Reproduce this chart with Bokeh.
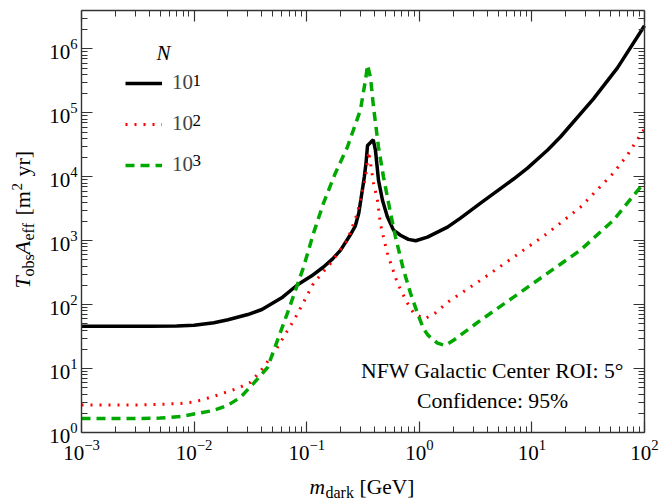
import math
from bokeh.plotting import figure
from bokeh.models import (Range1d, LogAxis, LogScale, FixedTicker, Label, Legend,
                          LegendItem, CustomJSTickFormatter)
from bokeh.embed import file_html
from bokeh.resources import INLINE

# ---------------- data ----------------
black_x = [0.001, 0.002, 0.004, 0.007, 0.01, 0.015, 0.02, 0.03, 0.04, 0.06, 0.083, 0.11,
           0.14, 0.17, 0.2, 0.245, 0.27, 0.29, 0.31, 0.325, 0.337, 0.347, 0.39, 0.408,
           0.434, 0.471, 0.522, 0.59, 0.68, 0.8, 0.93, 1.18, 1.78, 2.32, 3.5, 6.87, 9.14,
           13.8, 17.9, 35.2, 57.5, 100]
black_y = [46, 46, 46, 46.5, 47.5, 52, 58, 70, 84, 128, 205, 280,
           385, 520, 713, 1250, 1700, 2700, 5800, 10000, 17000, 31000, 38000, 26000,
           8900, 4300, 2340, 1466, 1220, 1050, 1000, 1140, 1630, 2260, 3880, 9240, 13700,
           26300, 42000, 165600, 507000, 2310000]

red_x = [0.001, 0.003, 0.005, 0.0076, 0.01, 0.0149, 0.0243, 0.0317, 0.0413, 0.055, 0.0794,
         0.115, 0.163, 0.23, 0.282, 0.333, 0.355, 0.392, 0.425, 0.452, 0.52, 0.64, 0.785,
         0.9, 1.12, 1.4, 1.78, 3.5, 6.87, 13.8, 27, 53, 70.6, 92, 100]
red_y = [2.7, 2.7, 2.75, 2.85, 3.0, 3.67, 4.9, 6.1, 10.4, 21.5, 63,
         216, 445, 1022, 2700, 9900, 25000, 8000, 4300, 1800, 640, 216, 105,
         72, 60, 75, 109, 241, 553, 1315, 3360, 11480, 21970, 45200, 56100]

green_x = [0.001, 0.003, 0.005, 0.0076, 0.0107, 0.0149, 0.0198, 0.0258, 0.0337, 0.0449,
           0.055, 0.0689, 0.0937, 0.115, 0.141, 0.18, 0.23, 0.30, 0.333, 0.347, 0.369,
           0.392, 0.434, 0.481, 0.555, 0.615, 0.725, 0.836, 0.964, 1.09, 1.2, 1.45, 1.7,
           2.01, 3.5, 6.87, 13.8, 27, 53, 92, 100]
green_y = [1.65, 1.65, 1.68, 1.78, 1.99, 2.21, 2.65, 3.54, 5.86, 10.4,
           27.7, 82, 385, 1315, 3880, 11500, 29300, 111000, 329000, 560000, 354000,
           124000, 29300, 9900, 2710, 1140, 346, 151, 73, 42, 33, 25, 23,
           27.7, 57, 131, 311, 713, 2100, 6900, 8300]

series_base = ["10", "10", "10"]
series_exp = ["1", "2", "3"]
legend_title = "N"
note_lines = ["NFW Galactic Center ROI: 5\u00b0", "Confidence: 95%"]

x_ticks = [1e-3, 1e-2, 1e-1, 1e0, 1e1, 1e2]
y_ticks = [1e0, 1e1, 1e2, 1e3, 1e4, 1e5, 1e6]
X0, X1 = 1e-3, 1e2
Y0, Y1 = 1.0, 4e6

x_minor = [m * 10.0 ** e for e in range(-3, 2) for m in range(2, 10)]
y_minor = [m * 10.0 ** e for e in range(0, 7) for m in range(2, 10) if m * 10.0 ** e < Y1]

FONT = "Liberation Serif"

# ---------------- layout (picture pixels) ----------------
W, H = 660, 498
FL, FR, FT, FB = 81, 644, 10, 432          # data box inside the canvas
lx0, lx1 = math.log10(X0), math.log10(X1)
ly0, ly1 = math.log10(Y0), math.log10(Y1)
ppx = (FR - FL) / (lx1 - lx0)
ppy = (FB - FT) / (ly1 - ly0)
# plotting frame covers the whole canvas; the axes are pinned to the data box
xr = Range1d(10 ** (lx0 - FL / ppx), 10 ** (lx1 + (W - FR) / ppx))
yr = Range1d(10 ** (ly0 - (H - FB) / ppy), 10 ** (ly1 + FT / ppy))

p = figure(width=W, height=H, x_axis_type=None, y_axis_type=None,
           x_range=xr, y_range=yr, output_backend="svg", toolbar_location=None,
           min_border=0, min_border_left=0, min_border_right=0,
           min_border_top=0, min_border_bottom=0)
p.x_scale = LogScale()
p.y_scale = LogScale()
p.grid.visible = False
p.outline_line_color = None
p.background_fill_color = "white"
p.border_fill_color = "white"


def make_axis(ticks, minor, bounds, loc, show_labels=True):
    ax = LogAxis(ticker=FixedTicker(ticks=ticks, minor_ticks=minor),
                 bounds=bounds, fixed_location=loc)
    ax.major_tick_in = 11
    ax.major_tick_out = 0
    ax.minor_tick_in = 6
    ax.minor_tick_out = 0
    ax.axis_line_width = 1.4
    ax.axis_line_color = "#333333"
    ax.major_tick_line_color = "#333333"
    ax.minor_tick_line_color = "#333333"
    ax.major_tick_line_width = 1.2
    ax.minor_tick_line_width = 1.0
    ax.major_label_text_font = FONT
    ax.major_label_text_font_size = "21px"
    ax.major_label_text_color = "black"
    if not show_labels:
        ax.formatter = CustomJSTickFormatter(code="return ''")
        ax.major_label_standoff = 0
    return ax


bottom = make_axis(x_ticks, x_minor, (X0, X1), Y0)
bottom.major_label_standoff = 7
p.add_layout(bottom, "below")
left = make_axis(y_ticks, y_minor, (Y0, Y1), X0)
left.major_label_standoff = 4
p.add_layout(left, "left")
p.add_layout(make_axis(x_ticks, x_minor, (X0, X1), Y1, show_labels=False), "above")
p.add_layout(make_axis(y_ticks, y_minor, (Y0, Y1), X1, show_labels=False), "right")

r1 = p.line(black_x, black_y, line_color="black", line_width=3.5)
r2 = p.line(red_x, red_y, line_color="#ff0000", line_width=3, line_dash="2 7")
r3 = p.line(green_x, green_y, line_color="#00a800", line_width=3.5, line_dash="9 6")

# legend rows centred at picture y = 85, 125, 165
ROW0, ROWSTEP, ROWH = 85, 40, 24
legend = Legend(items=[LegendItem(label=series_base[0], renderers=[r1]),
                       LegendItem(label=series_base[1], renderers=[r2]),
                       LegendItem(label=series_base[2], renderers=[r3])],
                location=(125, H - (ROW0 + 2 * ROWSTEP + ROWH / 2)),
                padding=0, margin=0, spacing=ROWSTEP - ROWH,
                glyph_width=37, glyph_height=ROWH, label_height=ROWH, label_standoff=10,
                label_text_font=FONT, label_text_font_size="21px",
                border_line_color=None, background_fill_alpha=0)
p.add_layout(legend, "center")


def place(px, py, text, size, style="normal", angle=0.0, align="left"):
    # px, py: picture pixels of the text's vertical middle
    p.add_layout(Label(x=px, y=H - py, x_units="screen", y_units="screen",
                       text=text, text_font=FONT, text_font_size=size,
                       text_font_style=style, angle=angle, text_align=align,
                       text_baseline="middle", text_color="black"))


place(163, 52, legend_title, "21px", style="italic", align="center")
for i, e in enumerate(series_exp):
    place(192, ROW0 - 5 + ROWSTEP * i, e, "17px")

place(492, 370, note_lines[0], "21.7px", align="center")
place(492, 400, note_lines[1], "21.7px", align="center")

# x axis label: m_dark [GeV]
place(309, 486.5, "m", "21.5px", style="italic")
place(325, 491.5, "dark", "16px")
place(359, 486.5, "[GeV]", "21.5px")

# y axis label: T_obs A_eff [m^2 yr]  (rotated, reading upwards)
A = math.pi / 2
BX = 22
place(BX, 288, "T", "22px", style="italic", angle=A)
place(BX + 6, 276, "obs", "16px", angle=A)
place(BX, 254, "A", "22px", style="italic", angle=A)
place(BX + 6, 240, "eff", "16px", angle=A)
place(BX, 215, "[m", "22px", angle=A)
place(BX - 6, 190, "2", "15px", angle=A)
place(BX, 176, "yr]", "22px", angle=A)

open("out.html", "w").write(file_html(p, INLINE))
